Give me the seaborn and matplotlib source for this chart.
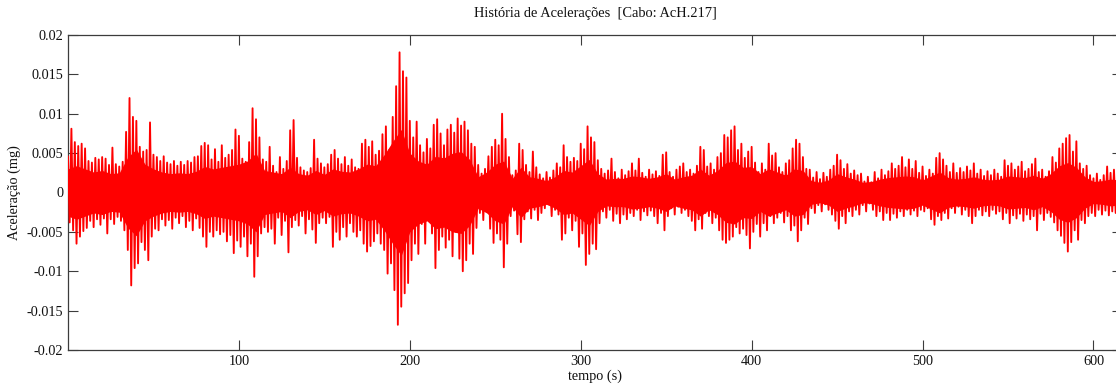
import numpy as np
import pandas as pd
import matplotlib
matplotlib.use("Agg")
import matplotlib.pyplot as plt
import seaborn as sns

# Acceleration record, values in units of 0.001 mg.
ESCALA = 1e-3

# Positive peaks, sampled every 2 s starting at t = 0 s
tempo_sup = np.arange(0, 618, 2)
pico_sup = [
    4.6, 8.1, 6.4, 5.9, 6.2, 5.6, 4.0, 3.8, 4.4, 4.2,
    4.5, 4.3, 3.5, 5.7, 3.6, 3.3, 3.9, 7.7, 12.0, 9.6,
    9.1, 5.8, 5.2, 5.4, 8.9, 4.8, 4.5, 4.0, 4.6, 3.8,
    3.6, 4.0, 3.4, 3.9, 3.5, 4.0, 3.8, 4.5, 4.6, 5.9,
    6.3, 6.0, 4.2, 5.5, 3.9, 6.0, 4.4, 4.8, 5.4, 8.0,
    7.2, 4.3, 3.9, 6.4, 10.7, 9.3, 7.0, 4.2, 3.9, 5.8,
    3.4, 2.6, 4.5, 3.0, 4.0, 7.9, 9.2, 4.4, 3.2, 2.8,
    2.6, 3.1, 6.7, 4.3, 3.7, 3.2, 3.6, 4.8, 5.4, 4.3,
    3.6, 4.5, 3.4, 4.2, 3.2, 3.0, 6.2, 6.7, 5.8, 6.5,
    4.8, 5.3, 7.4, 8.4, 5.4, 9.6, 13.5, 17.8, 15.4, 14.6,
    9.1, 7.0, 9.0, 6.0, 5.1, 6.8, 5.6, 8.6, 9.3, 7.5,
    6.0, 8.0, 8.6, 7.6, 9.4, 8.5, 9.0, 7.9, 6.2, 5.8,
    3.5, 2.4, 3.0, 4.6, 5.8, 6.7, 6.0, 10.0, 6.8, 4.5,
    2.2, 2.8, 6.2, 5.4, 3.5, 2.6, 5.2, 3.2, 2.3, 1.8,
    2.6, 1.9, 2.8, 3.7, 3.2, 6.0, 4.5, 3.9, 4.4, 4.0,
    6.2, 5.5, 8.4, 7.0, 6.4, 4.1, 3.0, 2.4, 2.8, 4.3,
    2.6, 1.8, 2.9, 2.2, 2.7, 3.7, 2.8, 4.3, 2.5, 2.0,
    2.9, 2.3, 2.7, 2.1, 4.8, 5.1, 2.6, 2.0, 2.9, 3.3,
    3.7, 2.6, 2.9, 2.4, 3.4, 5.8, 5.4, 3.3, 3.7, 2.9,
    4.5, 5.0, 7.3, 7.0, 7.9, 8.4, 5.4, 6.2, 4.4, 5.2,
    5.8, 3.8, 2.6, 3.7, 2.9, 6.2, 4.7, 5.0, 3.2, 2.6,
    3.7, 4.1, 5.6, 6.7, 6.2, 4.5, 3.0, 2.9, 1.9, 2.6,
    1.7, 2.5, 2.0, 2.9, 3.4, 4.8, 4.1, 3.0, 3.6, 2.4,
    2.8, 2.2, 2.4, 1.4, 2.0, 1.3, 2.6, 1.8, 2.9, 2.2,
    2.7, 3.7, 3.0, 3.4, 4.5, 3.2, 4.2, 3.0, 4.0, 2.5,
    3.3, 2.1, 2.9, 2.4, 4.4, 5.0, 4.2, 3.4, 2.6, 3.7,
    2.5, 3.1, 2.6, 3.3, 2.8, 3.7, 2.4, 2.9, 2.1, 2.7,
    2.2, 2.9, 2.4, 2.0, 4.1, 3.4, 3.7, 2.9, 3.3, 3.9,
    2.7, 3.0, 3.6, 4.3, 2.6, 2.9, 2.0, 2.7, 4.5, 3.8,
    5.6, 6.2, 6.9, 7.3, 5.2, 6.5, 3.7, 3.0, 3.4, 2.2,
    1.8, 2.4, 1.6, 2.2, 3.3, 2.5, 2.9, 2.7, 2.3,
]

# Negative peaks (magnitudes), sampled every 2 s starting at t = 1 s
tempo_inf = np.arange(1, 618, 2)
pico_inf = [
    3.8, 4.8, 6.5, 5.6, 4.9, 4.5, 3.6, 4.4, 3.4, 4.1,
    3.3, 5.2, 3.4, 4.0, 3.1, 3.6, 4.8, 7.3, 11.8, 9.6,
    9.0, 6.3, 7.3, 8.6, 5.6, 4.6, 4.8, 3.4, 4.2, 3.5,
    4.6, 3.2, 3.9, 3.0, 4.4, 3.6, 4.8, 3.3, 4.5, 5.6,
    6.9, 5.0, 5.6, 4.8, 5.3, 5.0, 6.2, 5.4, 7.7, 6.1,
    6.9, 5.6, 8.1, 6.5, 10.7, 8.1, 5.2, 4.4, 5.0, 4.6,
    6.5, 3.2, 5.4, 3.6, 7.6, 4.4, 3.5, 4.2, 3.0, 5.2,
    3.4, 4.7, 6.4, 3.9, 3.2, 3.9, 3.1, 6.9, 5.0, 6.0,
    4.4, 5.6, 3.9, 5.0, 5.6, 4.8, 6.5, 7.5, 6.8, 6.2,
    5.2, 6.5, 7.3, 10.3, 9.0, 12.4, 16.8, 14.5, 12.8, 11.5,
    8.6, 6.5, 7.8, 4.0, 6.5, 3.5, 5.2, 9.6, 7.3, 5.6,
    7.0, 6.0, 8.1, 5.0, 8.4, 10.0, 8.6, 6.5, 7.8, 4.5,
    2.6, 3.5, 2.2, 4.6, 6.4, 5.2, 6.0, 9.5, 6.5, 3.0,
    2.3, 5.3, 6.3, 3.4, 2.4, 3.3, 2.2, 3.5, 2.6, 2.0,
    1.5, 3.0, 2.2, 2.8, 6.0, 5.2, 3.2, 4.8, 3.6, 6.9,
    5.2, 9.2, 7.8, 6.5, 7.2, 3.9, 2.4, 3.2, 2.2, 3.6,
    2.7, 3.9, 2.8, 3.4, 2.6, 3.0, 2.2, 3.5, 2.4, 2.9,
    2.3, 3.0, 3.9, 2.6, 4.8, 3.0, 2.0, 2.8, 1.8, 2.6,
    2.2, 3.0, 3.6, 4.8, 3.4, 4.6, 2.6, 3.0, 3.9, 3.2,
    4.8, 6.0, 6.4, 6.0, 5.6, 4.4, 5.2, 4.6, 5.4, 7.1,
    5.0, 4.0, 5.6, 3.9, 4.8, 3.0, 3.9, 3.2, 2.6, 3.8,
    3.0, 4.8, 4.2, 6.2, 4.8, 3.2, 4.0, 2.0, 2.6, 1.6,
    2.4, 1.5, 2.2, 2.8, 3.6, 4.6, 3.0, 3.9, 2.4, 3.0,
    2.2, 2.8, 1.6, 2.4, 1.4, 2.2, 3.0, 2.4, 3.5, 2.6,
    3.5, 2.7, 3.2, 2.4, 3.0, 2.2, 2.8, 2.3, 3.0, 2.2,
    2.4, 2.0, 3.4, 4.1, 3.0, 3.5, 2.6, 3.3, 2.0, 2.6,
    1.8, 2.8, 2.2, 3.0, 3.9, 3.0, 2.2, 2.9, 2.4, 3.0,
    2.2, 2.7, 2.4, 3.4, 2.6, 3.9, 2.9, 3.3, 2.7, 3.6,
    2.8, 3.4, 3.0, 4.8, 2.7, 3.5, 2.6, 3.1, 3.8, 4.8,
    5.5, 6.4, 7.5, 6.3, 4.8, 6.0, 3.5, 3.9, 3.0, 2.6,
    3.0, 2.2, 2.8, 2.3, 2.9, 2.4, 2.6, 2.5, 2.2,
]

# Half-width of the dense body of the signal, every 5 s
tempo_nucleo = np.arange(0, 620, 5)
nucleo = [
    3.0, 3.4, 3.0, 2.6, 2.8, 2.4, 2.5, 4.5, 5.5, 3.6,
    3.0, 2.6, 2.4, 2.5, 2.4, 2.7, 3.3, 3.0, 3.2, 3.4,
    3.6, 4.0, 5.0, 2.8, 2.6, 2.4, 3.2, 2.4, 2.2, 2.8,
    2.3, 3.0, 2.7, 2.6, 3.0, 3.6, 3.4, 4.8, 6.5, 8.0,
    5.0, 4.0, 3.6, 4.6, 4.4, 5.0, 5.2, 4.2, 2.0, 2.6,
    3.6, 4.0, 1.8, 3.2, 2.0, 1.8, 1.5, 2.0, 2.8, 2.6,
    3.4, 4.2, 2.4, 1.7, 1.8, 1.8, 2.1, 2.0, 1.8, 2.0,
    2.4, 1.7, 2.0, 2.2, 3.0, 2.2, 2.8, 3.8, 4.0, 3.2,
    3.3, 2.4, 3.0, 2.6, 2.2, 3.0, 2.8, 1.5, 1.3, 1.6,
    2.4, 2.0, 1.7, 1.3, 1.4, 1.7, 1.9, 2.0, 2.1, 2.0,
    1.6, 2.1, 2.6, 1.9, 1.7, 1.8, 2.0, 1.7, 1.6, 1.7,
    2.1, 2.0, 1.9, 2.2, 1.8, 2.4, 3.4, 3.8, 3.2, 2.0,
    1.4, 1.5, 1.7, 1.6,
]

y_ticks = [0.02, 0.015, 0.01, 0.005, 0.0, -0.005, -0.01, -0.015, -0.02]
y_labels = ["0.02", "0.015", "0.01", "0.005", "0", "-0.005", "-0.01", "-0.015", "-0.02"]
x_ticks = [100, 200, 300, 400, 500, 600]
x_labels = ["100", "200", "300", "400", "500", "600"]

titulo = "História de Acelerações  [Cabo: AcH.217]"
rotulo_x = "tempo (s)"
rotulo_y = "Aceleração (mg)"

# Interleave positive and negative peaks into one time series
sinal = pd.DataFrame({
    "tempo": np.concatenate([tempo_sup, tempo_inf]),
    "aceleracao": np.concatenate([np.array(pico_sup), -np.array(pico_inf)]) * ESCALA,
}).sort_values("tempo").reset_index(drop=True)

sns.set_theme(style="white")
plt.rcParams["font.family"] = ["Liberation Serif", "DejaVu Serif"]
plt.rcParams["axes.unicode_minus"] = False

W, H = 1116, 385
fig = plt.figure(figsize=(W / 100, H / 100), dpi=100)
ax = fig.add_axes([68 / W, 35 / H, (1122 - 68) / W, (350 - 35) / H])

vermelho = "#ff0000"
nuc = np.array(nucleo) * ESCALA
ax.fill_between(tempo_nucleo, -nuc, nuc, color=vermelho, lw=0, zorder=2)
sns.lineplot(data=sinal, x="tempo", y="aceleracao", ax=ax, color=vermelho,
             lw=1.35, estimator=None, sort=False, zorder=3)

ax.set_xlim(0.01, 616.7)
ax.set_ylim(-0.02, 0.02)
ax.set_xticks(x_ticks)
ax.set_xticklabels(x_labels)
ax.set_yticks(y_ticks)
ax.set_yticklabels(y_labels)

cor_eixo = "#3c3c3c"
for s in ax.spines.values():
    s.set_visible(True)
    s.set_color(cor_eixo)
    s.set_linewidth(0.9)
ax.tick_params(axis="both", which="both", direction="in", length=7, width=0.8,
               color=cor_eixo, labelsize=10.3, labelcolor="#111111",
               top=True, right=True, bottom=True, left=True, pad=3.5)

ax.set_title(titulo, fontsize=10.4, color="#111111", pad=13)
ax.set_xlabel(rotulo_x, fontsize=10.3, color="#111111", labelpad=1)
ax.set_ylabel(rotulo_y, fontsize=10.3, color="#111111", labelpad=4)
ax.grid(False)

fig.savefig("out.png", dpi=100)
